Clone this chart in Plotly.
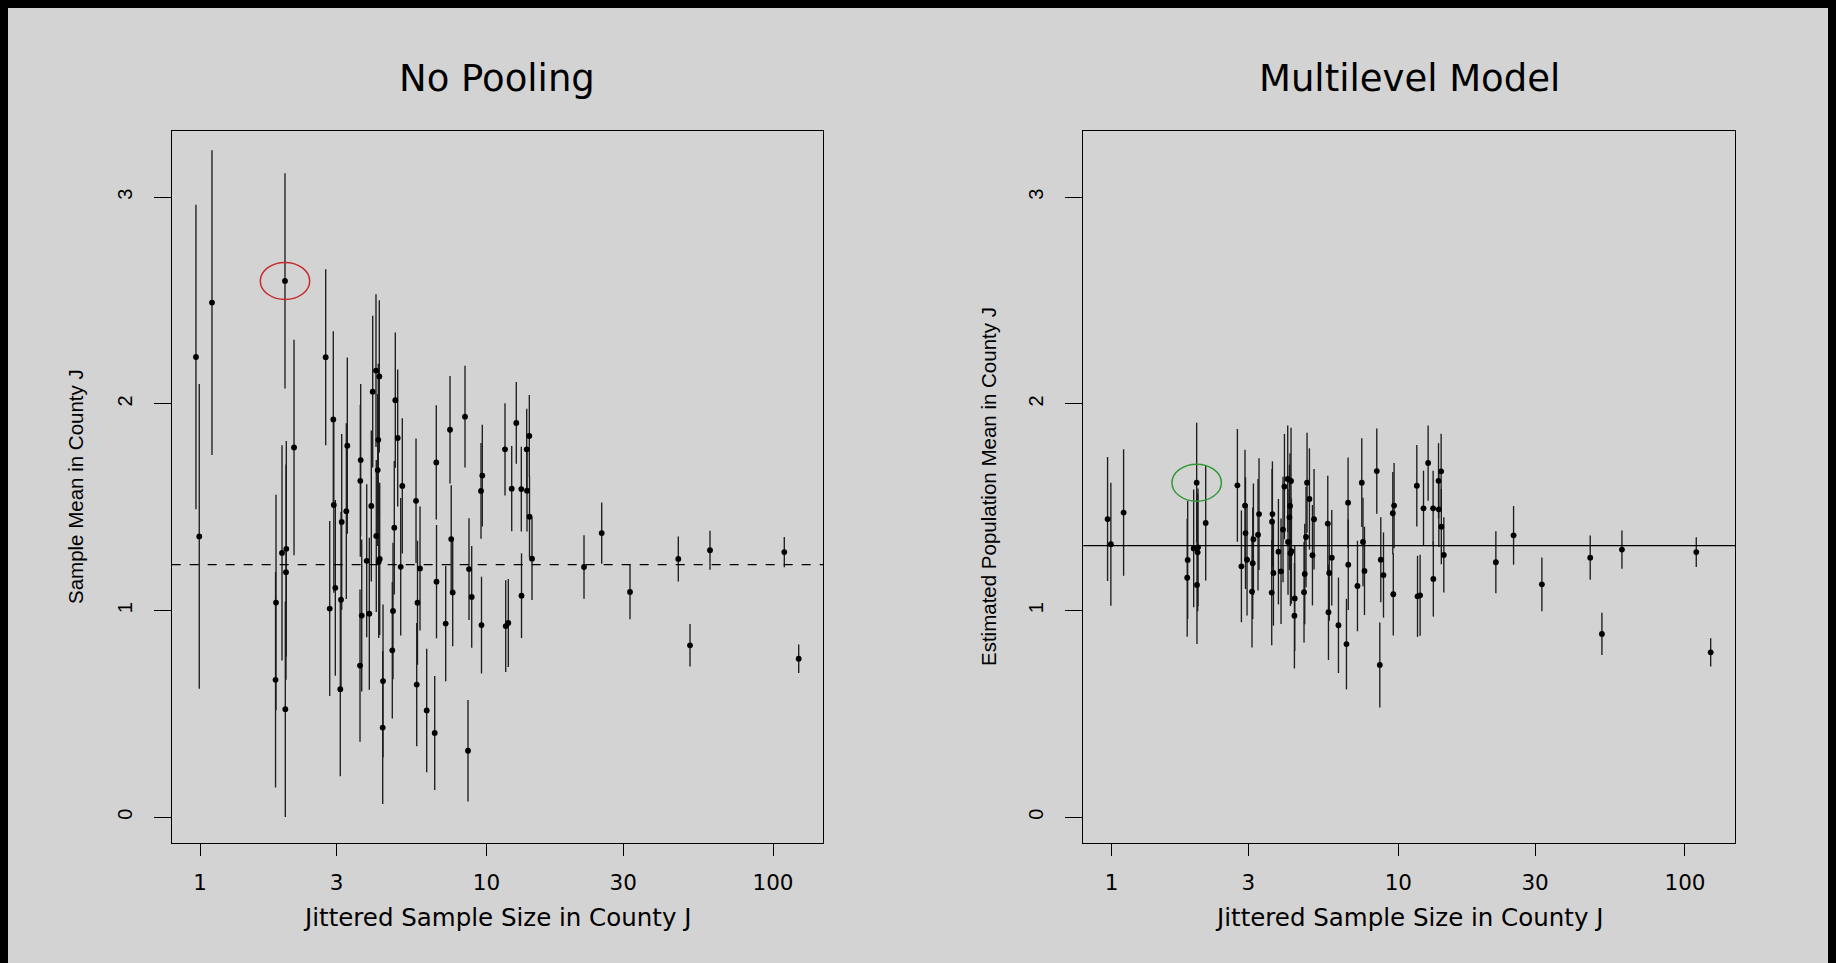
import plotly.graph_objects as go

# ---- data ----
sample_size_jittered = [
    0.968, 0.994, 1.101,
    1.980, 2.129, 1.842, 1.835, 1.933, 2.001, 1.996, 1.985,
    2.746, 2.919, 3.267, 2.836, 2.967, 3.106, 3.088, 3.123, 2.931, 3.241,
    3.638, 3.627, 3.668, 3.618, 3.818, 3.899, 3.962, 4.007, 4.114, 4.225,
    4.191, 4.171, 4.124, 4.239, 4.205, 4.353, 4.342,
    4.805, 4.898, 5.083, 4.766, 5.018, 4.717, 4.690,
    5.675, 5.860, 5.743, 5.707, 6.184,
    6.680, 6.691, 6.595, 7.204,
    7.458, 7.530, 7.621,
    8.413, 8.688, 8.879, 8.619, 9.668,
    9.568, 9.606,
    11.603, 11.669, 11.915,
    12.706, 12.245, 13.228, 13.814, 14.106, 13.847, 14.128, 14.414, 13.249,
    21.894, 25.240, 31.686, 46.716, 51.321, 60.27, 109.50, 122.94,
]

nopool_mean = [
    2.227, 1.359, 2.490,
    2.595, 1.789, 1.039, 0.665, 1.279, 1.299, 1.186, 0.523,
    2.226, 1.925, 1.798, 1.010, 1.110, 1.053, 0.620, 1.429, 1.511, 1.481,
    1.728, 1.628, 0.976, 0.734, 1.241, 0.985, 1.506, 2.059, 2.161, 2.133,
    1.826, 1.680, 1.361, 1.250, 1.236, 0.659, 0.434,
    2.018, 1.835, 1.603, 1.401, 1.212, 0.998, 0.808,
    1.531, 1.204, 1.038, 0.642, 0.517,
    1.717, 1.140, 0.408, 0.937,
    1.875, 1.346, 1.088,
    1.938, 1.201, 1.066, 0.322, 1.653,
    1.579, 0.930,
    1.780, 0.925, 0.940,
    1.908, 1.590, 1.588, 1.780, 1.845, 1.580, 1.454, 1.251, 1.072,
    1.211, 1.375, 1.090, 1.250, 0.832, 1.292, 1.283, 0.767,
]

nopool_se = [
    0.737, 0.737, 0.737,
    0.521, 0.521, 0.521, 0.521, 0.521, 0.521, 0.521, 0.521,
    0.426, 0.426, 0.426, 0.423, 0.425, 0.425, 0.422, 0.425, 0.425, 0.425,
    0.368, 0.368, 0.368, 0.368, 0.370, 0.368, 0.365, 0.367, 0.369, 0.368,
    0.368, 0.368, 0.368, 0.368, 0.368, 0.370, 0.370,
    0.327, 0.331, 0.327, 0.323, 0.333, 0.330, 0.330,
    0.301, 0.300, 0.300, 0.298, 0.299,
    0.276, 0.274, 0.276, 0.279,
    0.260, 0.260, 0.260,
    0.246, 0.246, 0.246, 0.246, 0.246,
    0.232, 0.234,
    0.223, 0.222, 0.213,
    0.198, 0.206, 0.205, 0.197, 0.198, 0.197, 0.197, 0.200, 0.205,
    0.154, 0.148, 0.132, 0.109, 0.103, 0.094, 0.0733, 0.0686,
]

multilevel_mean = [
    1.443, 1.321, 1.474,
    1.619, 1.424, 1.245, 1.159, 1.301, 1.306, 1.282, 1.124,
    1.606, 1.508, 1.467, 1.214, 1.246, 1.229, 1.092, 1.345, 1.375, 1.367,
    1.467, 1.430, 1.182, 1.087, 1.285, 1.190, 1.392, 1.600, 1.637, 1.627,
    1.506, 1.451, 1.332, 1.288, 1.277, 1.059, 0.975,
    1.619, 1.540, 1.442, 1.356, 1.268, 1.177, 1.089,
    1.421, 1.256, 1.182, 0.992, 0.929,
    1.522, 1.222, 0.838, 1.119,
    1.619, 1.332, 1.192,
    1.675, 1.246, 1.172, 0.737, 1.508,
    1.471, 1.079,
    1.604, 1.069, 1.074,
    1.714, 1.495, 1.495, 1.628, 1.674, 1.490, 1.406, 1.269, 1.153,
    1.234, 1.364, 1.127, 1.256, 0.887, 1.295, 1.283, 0.798,
]

multilevel_se = [
    0.300, 0.298, 0.306,
    0.290, 0.278, 0.285, 0.285, 0.285, 0.285, 0.285, 0.285,
    0.273, 0.270, 0.270, 0.270, 0.270, 0.270, 0.270, 0.270, 0.270, 0.270,
    0.255, 0.255, 0.255, 0.255, 0.255, 0.255, 0.255, 0.255, 0.258, 0.258,
    0.255, 0.255, 0.255, 0.255, 0.255, 0.255, 0.255,
    0.242, 0.245, 0.243, 0.243, 0.243, 0.243, 0.243,
    0.231, 0.231, 0.231, 0.231, 0.231,
    0.219, 0.219, 0.219, 0.219,
    0.215, 0.214, 0.214,
    0.206, 0.206, 0.206, 0.206, 0.206,
    0.199, 0.199,
    0.197, 0.196, 0.196,
    0.182, 0.182, 0.182, 0.182, 0.182, 0.182, 0.182, 0.182, 0.182,
    0.150, 0.142, 0.130, 0.107, 0.102, 0.093, 0.072, 0.068,
]

nopool_reference = 1.222      # dashed line
multilevel_reference = 1.314  # solid line
highlight_index = 3           # circled county

titles = ["No Pooling", "Multilevel Model"]
x_title = "Jittered Sample Size in County J"
y_titles = ["Sample Mean in County J", "Estimated Population Mean in County J"]
x_tick_vals = [1, 3, 10, 30, 100]
x_tick_text = ["1", "3", "10", "30", "100"]
y_tick_vals = [0, 1, 2, 3]
y_tick_text = ["0", "1", "2", "3"]

# ---- figure ----
W, H = 1820, 955
BG = "#d3d3d3"
H_FONT = "DejaVu Sans"
V_FONT = "Liberation Sans"

fig = go.Figure()

panels = [
    (nopool_mean, nopool_se, "x", "y"),
    (multilevel_mean, multilevel_se, "x2", "y2"),
]
for means, ses, xa, ya in panels:
    fig.add_trace(go.Scatter(
        x=sample_size_jittered, y=means, mode="markers",
        xaxis=xa, yaxis=ya, showlegend=False,
        marker=dict(color="black", size=5.8, line=dict(width=0)),
        error_y=dict(type="data", array=ses, symmetric=True, width=0,
                     thickness=1.35, color="#1e1e1e"),
        hoverinfo="skip",
    ))

x_range = [-0.0988, 2.1745]
y_range = [-0.1258, 3.3217]
dom_left = [163.7 / W, 815.0 / W]
dom_right = [1075.3 / W, 1727.0 / W]
dom_y = [(H - 835.3) / H, (H - 122.7) / H]

xaxis_common = dict(
    type="log", range=x_range, tickvals=x_tick_vals, ticktext=x_tick_text,
    ticks="outside", ticklen=12, tickwidth=1.2, tickcolor="black",
    showline=True, linecolor="black", linewidth=1.3, mirror=True,
    showgrid=False, zeroline=False,
    tickfont=dict(family=H_FONT, size=21.5, color="black"),
    ticklabelstandoff=8,
)
yaxis_common = dict(
    range=y_range, tickvals=y_tick_vals, ticktext=y_tick_text,
    ticks="outside", ticklen=17, tickwidth=1.2, tickcolor="black",
    showline=True, linecolor="black", linewidth=1.3, mirror=True,
    showgrid=False, zeroline=False, tickangle=-90,
    tickfont=dict(family=V_FONT, size=20, color="black"),
    ticklabelstandoff=14,
)

fig.update_layout(
    width=W, height=H, autosize=False,
    margin=dict(l=0, r=0, t=0, b=0, pad=0),
    paper_bgcolor=BG, plot_bgcolor=BG,
    xaxis=dict(domain=dom_left, anchor="y", **xaxis_common),
    yaxis=dict(domain=dom_y, anchor="x", **yaxis_common),
    xaxis2=dict(domain=dom_right, anchor="y2", **xaxis_common),
    yaxis2=dict(domain=dom_y, anchor="x2", **yaxis_common),
)

shapes = []
# reference lines
shapes.append(dict(type="line", xref="x domain", yref="y", x0=0, x1=1,
                   y0=nopool_reference, y1=nopool_reference,
                   line=dict(color="black", width=1.3, dash="9px,9px")))
shapes.append(dict(type="line", xref="x2 domain", yref="y2", x0=0, x1=1,
                   y0=multilevel_reference, y1=multilevel_reference,
                   line=dict(color="black", width=1.3)))
# highlight ellipses around the circled county
xc = sample_size_jittered[highlight_index]
rx_log, ry = 0.0862, 0.0895
for xa, ya, means, col in [("x", "y", nopool_mean, "#c62a2a"),
                           ("x2", "y2", multilevel_mean, "#2f9a35")]:
    yc = means[highlight_index]
    shapes.append(dict(type="circle", xref=xa, yref=ya,
                       x0=xc * 10 ** (-rx_log), x1=xc * 10 ** rx_log,
                       y0=yc - ry, y1=yc + ry,
                       line=dict(color=col, width=1.5)))
fig.update_layout(shapes=shapes)

annotations = []
centers = [(dom_left[0] + dom_left[1]) / 2, (dom_right[0] + dom_right[1]) / 2]
for cx, t in zip(centers, titles):
    annotations.append(dict(text=t, x=cx, y=1 - 70.5 / H, xref="paper", yref="paper",
                            xanchor="center", yanchor="middle", showarrow=False,
                            font=dict(family=H_FONT, size=37, color="black")))
    annotations.append(dict(text=x_title, x=cx, y=1 - 909 / H, xref="paper", yref="paper",
                            xanchor="center", yanchor="middle", showarrow=False,
                            font=dict(family=H_FONT, size=24.5, color="black")))
for xpos, t in zip([67 / W, 980 / W], y_titles):
    annotations.append(dict(text=t, x=xpos, y=(dom_y[0] + dom_y[1]) / 2,
                            xref="paper", yref="paper", textangle=-90,
                            xanchor="center", yanchor="middle", showarrow=False,
                            font=dict(family=V_FONT, size=20.5, color="black")))
fig.update_layout(annotations=annotations)

fig.write_html("out.html",
               post_script="document.body.style.background='black';"
                           "document.documentElement.style.background='black';")
